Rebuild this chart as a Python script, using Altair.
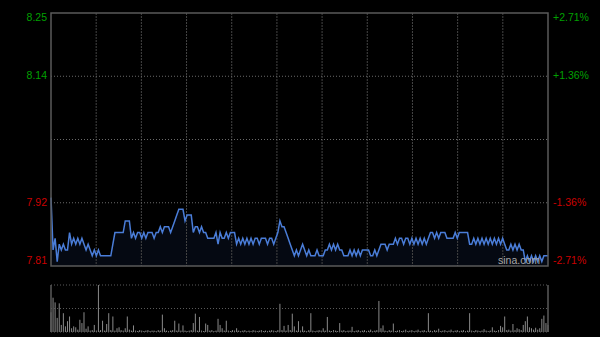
import altair as alt
import pandas as pd

# ---------------- data ----------------
prev_close = 8.03
max_pct = 2.71
tick_pcts = [2.71, 1.355, -1.355, -2.71]
price_labels = ["8.25", "8.14", "7.92", "7.81"]
pct_labels = ["+2.71%", "+1.36%", "-1.36%", "-2.71%"]

prices = [
    7.93, 7.84, 7.86, 7.82, 7.85, 7.84, 7.85, 7.84, 7.84, 7.87,
    7.85, 7.86, 7.85, 7.86, 7.85, 7.86, 7.85, 7.84, 7.85, 7.84,
    7.83, 7.84, 7.83, 7.84, 7.83, 7.83, 7.83, 7.83, 7.83, 7.83,
    7.85, 7.87, 7.87, 7.87, 7.87, 7.87, 7.89, 7.89, 7.89, 7.86,
    7.87, 7.86, 7.87, 7.87, 7.86, 7.87, 7.86, 7.87,
    7.87, 7.87, 7.86, 7.87, 7.87, 7.88, 7.87, 7.88, 7.88, 7.88,
    7.87, 7.88, 7.89, 7.90, 7.91, 7.91, 7.91, 7.89, 7.90, 7.90,
    7.90, 7.87, 7.88, 7.88, 7.87, 7.88, 7.87, 7.87, 7.86, 7.86,
    7.86, 7.86, 7.87, 7.85, 7.87, 7.86, 7.86, 7.87, 7.86, 7.87,
    7.87, 7.87, 7.85, 7.86, 7.85, 7.86, 7.85, 7.86,
    7.85, 7.86, 7.85, 7.86, 7.86, 7.85, 7.86, 7.86, 7.86, 7.85,
    7.86, 7.86, 7.85, 7.86, 7.87, 7.89, 7.88, 7.88, 7.87, 7.86,
    7.85, 7.84, 7.83, 7.84, 7.83, 7.84, 7.85, 7.84, 7.83, 7.84,
    7.83, 7.83, 7.83, 7.84, 7.83, 7.83, 7.83, 7.84, 7.84, 7.85,
    7.84, 7.85, 7.84, 7.85, 7.84, 7.84, 7.83, 7.83, 7.83,
    7.84, 7.83, 7.84, 7.83, 7.84, 7.83, 7.84, 7.84, 7.84, 7.84,
    7.83, 7.83, 7.84, 7.83, 7.84, 7.85, 7.85, 7.85, 7.84, 7.85,
    7.85, 7.85, 7.86, 7.85, 7.86, 7.86, 7.85, 7.86, 7.86, 7.85,
    7.86, 7.85, 7.86, 7.85, 7.86, 7.85, 7.86, 7.85, 7.86, 7.87,
    7.87, 7.86, 7.87, 7.86, 7.87, 7.87, 7.87, 7.86,
    7.86, 7.86, 7.86, 7.87, 7.86, 7.87, 7.87, 7.87, 7.87, 7.87,
    7.85, 7.85, 7.86, 7.85, 7.86, 7.85, 7.86, 7.85, 7.86, 7.85,
    7.86, 7.85, 7.86, 7.85, 7.86, 7.85, 7.86, 7.85, 7.84, 7.84,
    7.85, 7.84, 7.85, 7.84, 7.85, 7.84, 7.84, 7.82, 7.83, 7.82,
    7.83, 7.82, 7.83, 7.82, 7.83, 7.82, 7.83, 7.83, 7.83,
]

volumes = [
    42, 73, 63, 30, 61, 15, 40, 12, 23, 33,
    8, 12, 10, 5, 26, 19, 42, 7, 12, 3,
    4, 15, 3, 100, 4, 24, 3, 17, 40, 4,
    33, 3, 8, 10, 4, 3, 8, 33, 5, 3,
    14, 3, 2, 4, 3, 2, 3, 4, 2, 3,
    3, 2, 4, 3, 37, 8, 3, 2, 3, 4,
    24, 3, 18, 3, 14, 3, 2, 3, 4, 19,
    39, 3, 32, 3, 2, 18, 15, 3, 4, 2,
    3, 28, 15, 8, 3, 24, 3, 2, 4, 3,
    8, 3, 2, 3, 4, 2, 3, 2, 4, 3,
    2, 3, 4, 2, 3, 2, 3, 4, 3, 2,
    4, 60, 4, 13, 3, 15, 4, 39, 12, 3,
    23, 3, 12, 3, 2, 4, 40, 3, 2, 3,
    4, 3, 8, 3, 32, 3, 2, 4, 3, 2,
    19, 3, 4, 2, 3, 3, 11, 2, 3, 4,
    2, 3, 4, 2, 3, 5, 2, 3, 4, 66,
    8, 14, 3, 2, 4, 3, 18, 2, 3, 4,
    2, 3, 5, 2, 3, 4, 2, 3, 5, 2,
    3, 4, 2, 40, 3, 2, 4, 3, 7, 2,
    3, 4, 2, 3, 5, 2, 3, 4, 2, 3,
    4, 2, 3, 40, 3, 2, 4, 3, 2, 3,
    6, 3, 2, 3, 10, 3, 2, 4, 13, 10,
    33, 4, 5, 3, 17, 4, 8, 6, 4, 15,
    23, 33, 10, 8, 5, 9, 5, 8, 28, 35,
    19, 15,
]

# ---------------- layout ----------------
n = len(prices)
W = 497          # plot width
PH = 253         # price panel height
VTOP, VBOT = 272, 319   # volume panel (within plot coordinates)
H = VBOT

lo = prev_close * (1 - max_pct / 100)
hi = prev_close * (1 + max_pct / 100)

df = pd.DataFrame({"i": list(range(n)), "price": prices, "vol": volumes})
ticks = pd.DataFrame({
    "level": [prev_close * (1 + p / 100) for p in tick_pcts],
    "left": price_labels,
    "right": pct_labels,
})
hlines = pd.DataFrame({"level": [prev_close * (1 + p / 100) for p in [1.355, 0, -1.355]]})
vgrid = pd.DataFrame({"g": [(n - 1) * k / 11 for k in range(1, 11)]})
one = pd.DataFrame({"a": [0]})

xs = alt.Scale(domain=[0, n - 1], range=[0, W], nice=False, zero=False)
ps = alt.Scale(domain=[lo, hi], range=[PH, 0], nice=False, zero=False)
vs = alt.Scale(domain=[0, max(volumes)], range=[VBOT, VTOP], nice=False, zero=True)

X = alt.X("i:Q", scale=xs, axis=None)

GREEN = "#00a000"
RED = "#cc0000"
GRID = "#454545"
BORDER = "#5a5a5a"
FONT = "Liberation Sans"

area = alt.Chart(df).mark_area(color="#0b1428", opacity=0.45).encode(
    x=X,
    y=alt.Y("price:Q", scale=ps, axis=None),
    y2=alt.datum(lo),
)

line = alt.Chart(df).mark_line(color="#4a7dd8", strokeWidth=1.5, interpolate="linear").encode(
    x=X,
    y=alt.Y("price:Q", scale=ps, axis=None),
)

vg = alt.Chart(vgrid).mark_rule(color=GRID, strokeWidth=1, strokeDash=[2, 1]).encode(
    x=alt.X("g:Q", scale=xs, axis=None),
    y=alt.value(0),
    y2=alt.value(PH),
)

hg = alt.Chart(hlines).mark_rule(color="#6a6a6a", strokeWidth=1, strokeDash=[1, 2]).encode(
    y=alt.Y("level:Q", scale=ps, axis=None),
    x=alt.value(0),
    x2=alt.value(W),
)

border = alt.Chart(one).mark_rect(filled=False, stroke=BORDER, strokeWidth=1.5).encode(
    x=alt.value(0), x2=alt.value(W), y=alt.value(0), y2=alt.value(PH)
)

vbars = alt.Chart(df).mark_rule(color="#8a8a8a", strokeWidth=1).encode(
    x=X,
    y=alt.Y("vol:Q", scale=vs, axis=None),
    y2=alt.datum(0),
)

vol_dotted = alt.Chart(pd.DataFrame({"f": [0.0, 0.5, 1.0]})).mark_rule(
    color="#5a5a5a", strokeWidth=1, strokeDash=[1, 2]
).encode(
    y=alt.Y("v:Q", scale=vs, axis=None),
    x=alt.value(0),
    x2=alt.value(W),
).transform_calculate(v=f"datum.f * {max(volumes)}")

vol_sides = alt.Chart(pd.DataFrame({"side": [0, n - 1]})).mark_rule(
    color=BORDER, strokeWidth=1.5
).encode(
    x=alt.X("side:Q", scale=xs, axis=None),
    y=alt.value(VTOP),
    y2=alt.value(VBOT),
)

color_cond = alt.condition(f"datum.level > {prev_close}", alt.value(GREEN), alt.value(RED))

def labels(field, xpos, align, baseline, test):
    return alt.Chart(ticks).transform_filter(test).mark_text(
        align=align, baseline=baseline, font=FONT, fontSize=10.5
    ).encode(
        x=alt.value(xpos),
        y=alt.Y("level:Q", scale=ps, axis=None),
        text=f"{field}:N",
        color=color_cond,
    )

top_t = f"datum.level > {hi} - 0.001"
bot_t = f"datum.level < {lo} + 0.001"
mid_t = f"datum.level < {hi} - 0.001 && datum.level > {lo} + 0.001"

lab_layers = []
for test, bl in [(top_t, "top"), (mid_t, "middle"), (bot_t, "bottom")]:
    lab_layers.append(labels("left", -4, "right", bl, test))
    lab_layers.append(labels("right", W + 5, "left", bl, test))

wm = alt.Chart(one).mark_text(
    text="sina.com", align="right", baseline="bottom", font=FONT, fontSize=10.5, color="#a8a8a8"
).encode(x=alt.value(W - 8), y=alt.value(PH))

chart = alt.layer(
    area, vg, hg, line, border, vbars, vol_dotted, vol_sides, *lab_layers, wm
).resolve_scale(y="independent").properties(
    width=W,
    height=H,
    autosize=alt.AutoSizeParams(type="none"),
    padding={"left": 51, "top": 13, "right": 52, "bottom": 5},
    background="#000000",
).configure_view(stroke=None)

chart.save("out.html", embed_options={"renderer": "svg", "actions": False})
